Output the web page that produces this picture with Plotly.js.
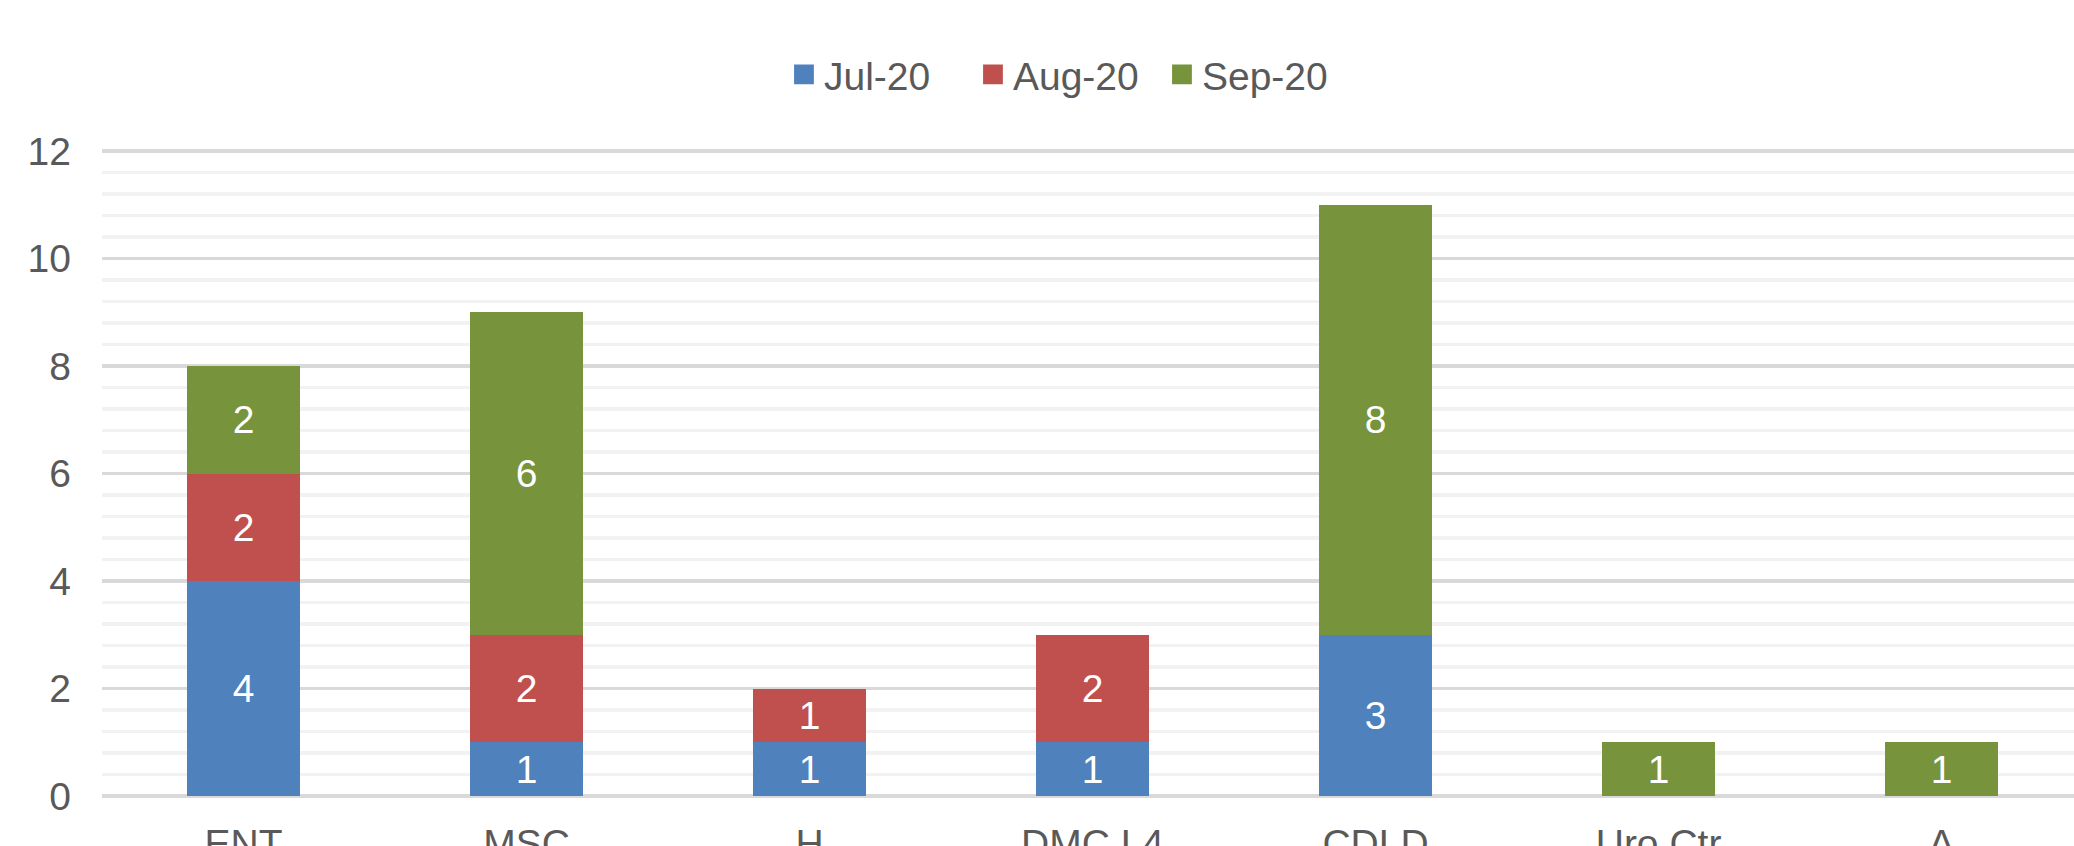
<!DOCTYPE html>
<html>
<head>
<meta charset="utf-8">
<script src="https://cdn.plot.ly/plotly-3.0.1.min.js"></script>
<style>
html,body{margin:0;padding:0;overflow:hidden;background:#fff;}
#chart{width:2074px;height:846px;}
</style>
</head>
<body>
<div id="chart"></div>
<script>
const categories = ["ENT", "MSC", "H", "DMC L4", "CDLD", "Uro Ctr", "A"];
const seriesNames = ["Jul-20", "Aug-20", "Sep-20"];
const jul20 = [4, 1, 1, 1, 3, null, null];
const aug20 = [2, 2, 1, 2, null, null, null];
const sep20 = [2, 6, null, null, 8, 1, 1];
const colors = ["#4F81BD", "#C0504D", "#77933C"];
const yTicks = [0, 2, 4, 6, 8, 10, 12];

const FONT = "Liberation Sans, Arial, sans-serif";
const values = [jul20, aug20, sep20];

const traces = values.map((v, i) => ({
  type: "bar",
  name: seriesNames[i],
  x: categories,
  y: v,
  marker: {color: colors[i], line: {width: 0}},
  text: v.map(d => d == null ? "" : String(d)),
  texttemplate: "%{text}",
  textposition: "inside",
  insidetextanchor: "middle",
  textangle: 0,
  constraintext: "none",
  insidetextfont: {family: FONT, size: 39, color: "#FFFFFF"},
  hoverinfo: "x+y+name"
}));

const layout = {
  width: 2074,
  height: 846,
  margin: {l: 102, r: 0, t: 150, b: 50, pad: 0},
  paper_bgcolor: "#FFFFFF",
  plot_bgcolor: "#FFFFFF",
  barmode: "stack",
  bargap: 0.6,
  font: {family: FONT, size: 39, color: "#595959"},
  showlegend: true,
  legend: {
    orientation: "h",
    xref: "container", yref: "container",
    x: 0.378, xanchor: "left",
    y: 0.912, yanchor: "middle",
    font: {family: FONT, size: 39, color: "#595959"},
    entrywidth: 144, entrywidthmode: "pixels",
    traceorder: "normal",
    bgcolor: "rgba(0,0,0,0)"
  },
  xaxis: {
    type: "category",
    range: [-0.5, 6.468],
    showgrid: false,
    showline: false,
    zeroline: false,
    ticks: "",
    ticklabelstandoff: 21,
    tickfont: {family: FONT, size: 39, color: "#595959"},
    fixedrange: true
  },
  yaxis: {
    range: [0, 12.02],
    tickvals: yTicks,
    ticktext: yTicks.map(String),
    showgrid: true,
    gridcolor: "#D9D9D9",
    gridwidth: 3.5,
    zeroline: true,
    zerolinecolor: "#D9D9D9",
    zerolinewidth: 3.5,
    showline: false,
    ticks: "",
    ticklabelstandoff: 30,
    tickfont: {family: FONT, size: 39, color: "#595959"},
    minor: {dtick: 0.4, tick0: 0, showgrid: true, gridcolor: "#F2F2F2", gridwidth: 3.5, ticks: ""},
    fixedrange: true
  }
};

Plotly.newPlot("chart", traces, layout, {displayModeBar: false, staticPlot: true}).then(gd => {
  gd.querySelectorAll(".legend .legendpoints path").forEach(p => {
    const t = p.getAttribute("transform") || "";
    p.setAttribute("transform", t + " scale(1.65)");
  });
});
</script>
</body>
</html>
